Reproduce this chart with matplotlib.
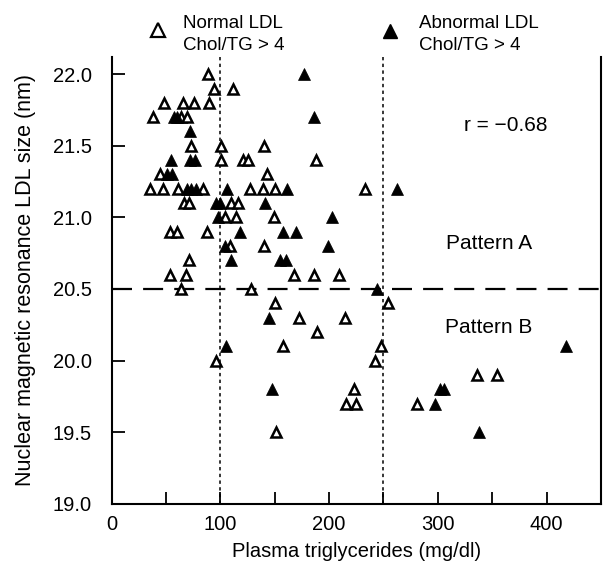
import matplotlib
matplotlib.use("Agg")
import matplotlib.pyplot as plt
from matplotlib.lines import Line2D

plt.rcParams['font.family'] = ['Liberation Sans', 'DejaVu Sans']

# Normal LDL (open triangles): triglycerides (mg/dl), LDL size (nm)
normal_tg = [89, 94, 112,
             48, 66, 76, 90,
             38, 64, 69,
             73.5, 100.4, 140,
             100.4, 121, 125.5, 188,
             45, 142.5,
             35, 47, 61, 84, 127, 139, 150, 232.6,
             66.5, 71.3, 110, 116,
             104, 114, 149,
             54, 60, 88,
             109, 140,
             71,
             53.6, 68.3, 167.6, 186.5, 209.4,
             64, 128.5,
             150, 254,
             172, 215,
             189,
             158, 247.6,
             96, 242.4,
             336, 354.5,
             223,
             216, 224.7, 281,
             151.4]
normal_ldl = [22.0, 21.9, 21.9,
              21.8, 21.8, 21.8, 21.8,
              21.7, 21.7, 21.7,
              21.5, 21.5, 21.5,
              21.4, 21.4, 21.4, 21.4,
              21.3, 21.3,
              21.2, 21.2, 21.2, 21.2, 21.2, 21.2, 21.2, 21.2,
              21.1, 21.1, 21.1, 21.1,
              21.0, 21.0, 21.0,
              20.9, 20.9, 20.9,
              20.8, 20.8,
              20.7,
              20.6, 20.6, 20.6, 20.6, 20.6,
              20.5, 20.5,
              20.4, 20.4,
              20.3, 20.3,
              20.2,
              20.1, 20.1,
              20.0, 20.0,
              19.9, 19.9,
              19.8,
              19.7, 19.7, 19.7,
              19.5]

# Abnormal LDL (filled triangles)
abnormal_tg = [176.7,
               186.5, 57, 60,
               72,
               54.5, 72, 77,
               51, 56,
               69, 73, 78, 106.2, 161, 262.3,
               96, 100, 140.7,
               98, 202.4,
               118, 157.5, 170,
               104, 199.4,
               110, 155, 160,
               244,
               144.6,
               105.6, 418,
               147.4, 301.7, 305.7,
               297.2,
               337.8]
abnormal_ldl = [22.0,
                21.7, 21.7, 21.7,
                21.6,
                21.4, 21.4, 21.4,
                21.3, 21.3,
                21.2, 21.2, 21.2, 21.2, 21.2, 21.2,
                21.1, 21.1, 21.1,
                21.0, 21.0,
                20.9, 20.9, 20.9,
                20.8, 20.8,
                20.7, 20.7, 20.7,
                20.5,
                20.3,
                20.1, 20.1,
                19.8, 19.8, 19.8,
                19.7,
                19.5]

x_ticks = [0, 100, 200, 300, 400]
y_ticks = [19.0, 19.5, 20.0, 20.5, 21.0, 21.5, 22.0]
tg_cutoffs = [100, 250]
ldl_cutoff = 20.5

W, H = 603, 570
fig = plt.figure(figsize=(W / 100, H / 100), dpi=100)
ax = fig.add_axes([111.5 / W, 1 - 503.8 / H, (601 - 111.5) / W, (503.8 - 57) / H])

ax.set_xlim(0, 450)
ax.set_ylim(19.0, 22.12)

for xc in tg_cutoffs:
    ax.axvline(xc, color='black', lw=1.1, dashes=(2.2, 2.2), zorder=1)
ax.axhline(ldl_cutoff, color='black', lw=1.6, dashes=(9, 5), zorder=1)

ax.plot(normal_tg, normal_ldl, linestyle='none', marker='^', ms=7.2,
        mfc='white', mec='black', mew=1.8, zorder=3)
ax.plot(abnormal_tg, abnormal_ldl, linestyle='none', marker='^', ms=9,
        mfc='black', mec='black', mew=0.5, zorder=4)

ax.spines['top'].set_visible(False)
for s in ['left', 'bottom', 'right']:
    ax.spines[s].set_linewidth(1.5)

ax.set_xticks(x_ticks)
ax.set_xticks([50, 150, 250, 350], minor=True)
ax.set_yticks(y_ticks)
ax.set_yticklabels([f"{v:.1f}" for v in y_ticks])
ax.tick_params(axis='both', which='both', direction='in', length=9, width=1.3,
               labelsize=14.5)
ax.tick_params(axis='x', pad=8)
ax.tick_params(axis='y', pad=14)

ax.set_xlabel('Plasma triglycerides (mg/dl)', fontsize=14.5, labelpad=6)
ax.set_ylabel('Nuclear magnetic resonance LDL size (nm)', fontsize=15.5, labelpad=12)

ax.text(362, 21.64, 'r = \u22120.68', fontsize=15, ha='center', va='center')
ax.text(347, 20.82, 'Pattern A', fontsize=15, ha='center', va='center')
ax.text(347, 20.23, 'Pattern B', fontsize=15, ha='center', va='center')

# Legend at the top
fig.add_artist(Line2D([158 / W], [1 - 30 / H], marker='^', ms=10, mfc='white',
                      mec='black', mew=1.6, linestyle='none'))
fig.add_artist(Line2D([390 / W], [1 - 31 / H], marker='^', ms=10, mfc='black',
                      mec='black', linestyle='none'))
fig.text(183 / W, 1 - 24 / H, 'Normal LDL', fontsize=13.5, va='center', ha='left')
fig.text(183 / W, 1 - 46 / H, 'Chol/TG > 4', fontsize=13.5, va='center', ha='left')
fig.text(419 / W, 1 - 24 / H, 'Abnormal LDL', fontsize=13.5, va='center', ha='left')
fig.text(419 / W, 1 - 46 / H, 'Chol/TG > 4', fontsize=13.5, va='center', ha='left')

fig.savefig('out.png', dpi=100)
